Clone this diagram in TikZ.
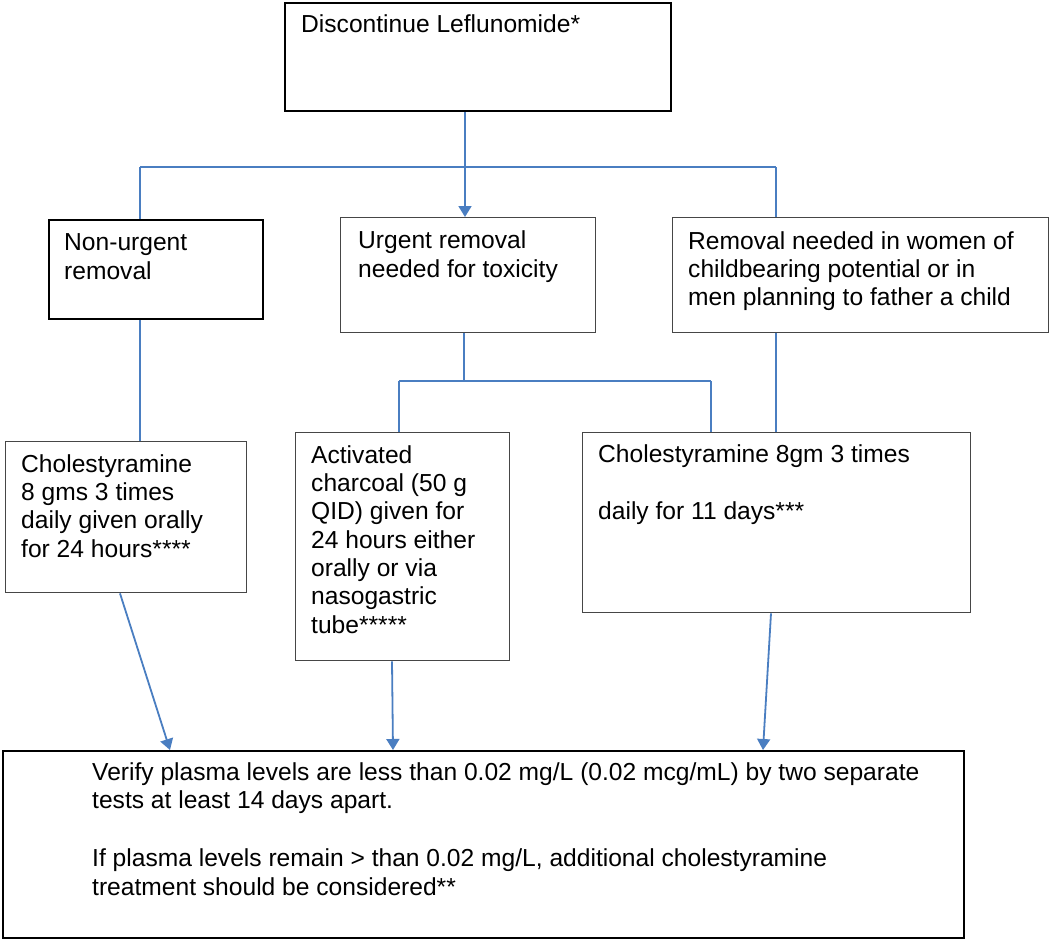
\documentclass[tikz,border=0pt]{standalone}
\usepackage{fontspec}
\setmainfont{Liberation Sans}
\usetikzlibrary{arrows.meta}
\definecolor{conn}{RGB}{74,126,193}
\definecolor{thinb}{RGB}{70,70,70}
\begin{document}
\begin{tikzpicture}[x=1pt,y=-1pt,
  thickbox/.style={draw=black, line width=2pt, inner sep=0pt, anchor=north west},
  thinbox/.style={draw=thinb, line width=1.4pt, inner sep=0pt, anchor=north west},
  txt/.style={anchor=base west, inner sep=0pt, align=left, font=\fontsize{24.6}{28.3}\selectfont},
  link/.style={draw=conn, line width=1.8pt},
  arr/.style={link, -{Triangle[width=13pt,length=11pt]}}]
\useasboundingbox (0,0) rectangle (1050,940);
\fill[white] (0,0) rectangle (1050,940);
% boxes
\node[thickbox, minimum width=386pt, minimum height=108pt] (top) at (284,2) {};
\node[thickbox, minimum width=214pt, minimum height=99pt] (nonurg) at (48,219) {};
\node[thinbox, minimum width=255pt, minimum height=115pt] (urg) at (340,217) {};
\node[thinbox, minimum width=376pt, minimum height=115pt] (rem) at (672,217) {};
\node[thinbox, minimum width=241pt, minimum height=151pt] (chol24) at (5,441) {};
\node[thinbox, minimum width=214pt, minimum height=228pt] (act) at (295,432) {};
\node[thinbox, minimum width=388pt, minimum height=180pt] (chol8) at (582,432) {};
\node[thickbox, minimum width=961pt, minimum height=187pt] (bot) at (2,750) {};
% texts (anchored at the baseline of their last line)
\node[txt] (t0) at (301,32) {Discontinue Leflunomide*};
\node[txt] (t1) at (64,279) {Non-urgent\\removal};
\node[txt] (t2) at (358,277) {Urgent removal\\needed for toxicity};
\node[txt] (t3) at (688,305.6) {Removal needed in women of\\childbearing potential or in\\men planning to father a child};
\node[txt] (t4) at (21,557) {Cholestyramine\\8 gms 3 times\\daily given orally\\for 24 hours****};
\node[txt] (t5) at (311,633) {Activated\\charcoal (50 g\\QID) given for\\24 hours either\\orally or via\\nasogastric\\tube*****};
\node[txt] (t6) at (598,519) {Cholestyramine 8gm 3 times\\[28.7pt]daily for 11 days***};
\node[txt] (t7) at (92,895) {Verify plasma levels are less than 0.02 mg/L (0.02 mcg/mL) by two separate\\tests at least 14 days apart.\\[30pt]If plasma levels remain > than 0.02 mg/L, additional cholestyramine\\treatment should be considered**};
% junction coordinates
\coordinate (jm) at (465,167);
\coordinate (jl) at (140,167);
\coordinate (jr) at (776,167);
\coordinate (km) at (464,381);
\coordinate (kl) at (399,381);
\coordinate (kr) at (711,381);
% connectors
\draw[arr] (jm |- top.south) -- (jm |- urg.north);
\draw[link] (jl) -- (jr);
\draw[link] (jl) -- (jl |- nonurg.north);
\draw[link] (jr) -- (jr |- rem.north);
\draw[link] (jl |- nonurg.south) -- (jl |- chol24.north);
\draw[link] (km |- urg.south) -- (km);
\draw[link] (kl) -- (kr);
\draw[link] (kl) -- (kl |- act.north);
\draw[link] (kr) -- (kr |- chol8.north);
\draw[link] (jr |- rem.south) -- (jr |- chol8.north);
\draw[arr] ([xshift=115pt]chol24.south west) -- ([xshift=168pt]bot.north west);
\draw[arr] ([xshift=97pt]act.south west) -- ([xshift=391pt]bot.north west);
\draw[arr] ([xshift=189pt]chol8.south west) -- ([xshift=761pt]bot.north west);
\end{tikzpicture}
\end{document}
